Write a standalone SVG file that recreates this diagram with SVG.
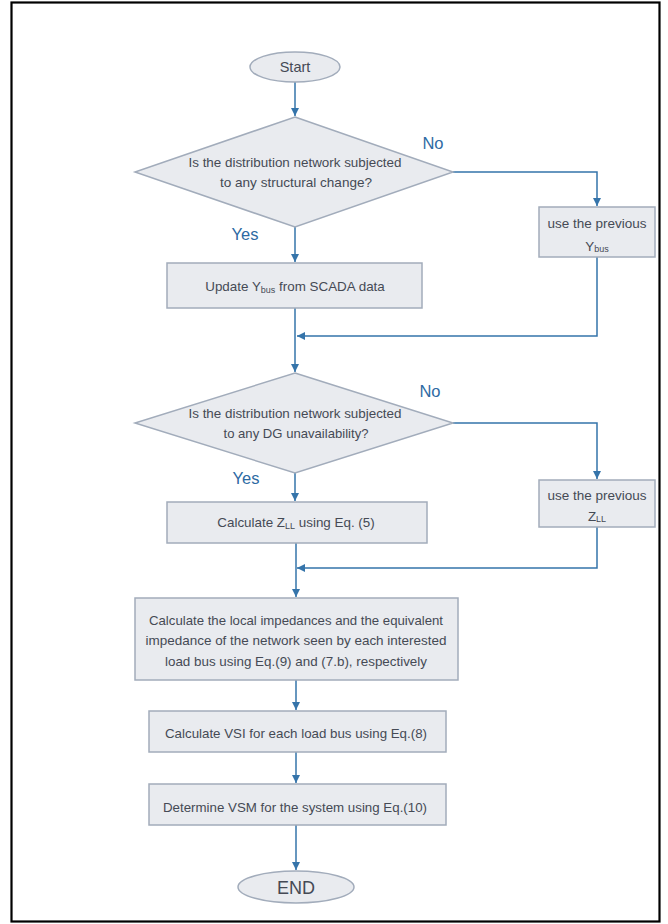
<svg xmlns="http://www.w3.org/2000/svg" width="668" height="924" viewBox="0 0 668 924">
<style>
.bg{fill:#ffffff}
.frame{fill:none;stroke:#000;stroke-width:2.2}
.shape{fill:#e9ebef;stroke:#a2acbb;stroke-width:1.5}
.t{font-family:"Liberation Sans",Arial,sans-serif;font-size:13.4px;fill:#454a55;text-anchor:middle}
.sub{font-size:9px}
.lbl{font-family:"Liberation Sans",Arial,sans-serif;font-size:16.5px;fill:#2d6aa3;text-anchor:middle}
.conn{fill:none;stroke:#3574aa;stroke-width:1.5}
</style>
<defs>
<marker id="arr" markerUnits="userSpaceOnUse" markerWidth="9" markerHeight="9" refX="8" refY="4" orient="auto">
<path d="M0,0 L8,4 L0,8 z" fill="#3574aa"/>
</marker>
</defs>
<rect class="bg" x="0" y="0" width="668" height="924"/>
<rect class="frame" x="11.5" y="2.5" width="648" height="919"/>

<g id="connectors">
<path class="conn" d="M295,82 V116" marker-end="url(#arr)"/>
<path class="conn" d="M295,227 V262" marker-end="url(#arr)"/>
<path class="conn" d="M453,172 H597 V206" marker-end="url(#arr)"/>
<path class="conn" d="M295,308 V372" marker-end="url(#arr)"/>
<path class="conn" d="M597,257 V336 H297" marker-end="url(#arr)"/>
<path class="conn" d="M295,473 V501" marker-end="url(#arr)"/>
<path class="conn" d="M453,423 H597 V479" marker-end="url(#arr)"/>
<path class="conn" d="M296,543 V597" marker-end="url(#arr)"/>
<path class="conn" d="M597,527 V568 H297" marker-end="url(#arr)"/>
<path class="conn" d="M296,680 V710" marker-end="url(#arr)"/>
<path class="conn" d="M296,752 V783" marker-end="url(#arr)"/>
<path class="conn" d="M296,825 V870" marker-end="url(#arr)"/>
</g>

<g id="start">
<ellipse class="shape" cx="295" cy="67" rx="45" ry="15"/>
<text class="t" x="295" y="72" style="font-size:14.5px">Start</text>
</g>

<g id="decision1">
<polygon class="shape" points="295,117 453,172 295,227 135,172"/>
<text class="t" x="295" y="167" textLength="213" lengthAdjust="spacingAndGlyphs">Is the distribution network subjected</text>
<text class="t" x="296" y="187" textLength="152" lengthAdjust="spacingAndGlyphs">to any structural change?</text>
</g>
<text class="lbl" x="433" y="149">No</text>
<text class="lbl" x="245" y="240">Yes</text>

<g id="prevYbus">
<rect class="shape" x="539" y="207" width="116" height="50"/>
<text class="t" x="597" y="228" textLength="99" lengthAdjust="spacingAndGlyphs">use the previous</text>
<text class="t" x="597" y="251">Y<tspan class="sub" dy="1">bus</tspan></text>
</g>

<g id="updateYbus">
<rect class="shape" x="167" y="263" width="255" height="45"/>
<text class="t" x="295" y="291">Update Y<tspan class="sub" dy="1.5">bus</tspan><tspan dy="-1.5"> from SCADA data</tspan></text>
</g>

<g id="decision2">
<polygon class="shape" points="295,373 453,423 295,473 135,423"/>
<text class="t" x="295" y="418" textLength="213" lengthAdjust="spacingAndGlyphs">Is the distribution network subjected</text>
<text class="t" x="296" y="438" textLength="145" lengthAdjust="spacingAndGlyphs">to any DG unavailability?</text>
</g>
<text class="lbl" x="430" y="397">No</text>
<text class="lbl" x="246" y="484">Yes</text>

<g id="prevZLL">
<rect class="shape" x="539" y="480" width="116" height="47"/>
<text class="t" x="597" y="500" textLength="99" lengthAdjust="spacingAndGlyphs">use the previous</text>
<text class="t" x="597" y="521">Z<tspan class="sub" dy="1">LL</tspan></text>
</g>

<g id="calcZLL">
<rect class="shape" x="167" y="502" width="260" height="41"/>
<text class="t" x="296" y="527">Calculate Z<tspan class="sub" dy="1.5">LL</tspan><tspan dy="-1.5"> using Eq. (5)</tspan></text>
</g>

<g id="calcImpedances">
<rect class="shape" x="135" y="598" width="323" height="82"/>
<text class="t" x="296" y="625" textLength="294" lengthAdjust="spacingAndGlyphs">Calculate the local impedances and the equivalent</text>
<text class="t" x="296" y="645" textLength="301" lengthAdjust="spacingAndGlyphs">impedance of the network seen by each interested</text>
<text class="t" x="296" y="666" textLength="262" lengthAdjust="spacingAndGlyphs">load bus using Eq.(9) and (7.b), respectively</text>
</g>

<g id="calcVSI">
<rect class="shape" x="149" y="711" width="297" height="41"/>
<text class="t" x="296" y="738" textLength="262" lengthAdjust="spacingAndGlyphs">Calculate VSI for each load bus using Eq.(8)</text>
</g>

<g id="determineVSM">
<rect class="shape" x="149" y="784" width="297" height="41"/>
<text class="t" x="295" y="812" textLength="264" lengthAdjust="spacingAndGlyphs">Determine VSM for the system using Eq.(10)</text>
</g>

<g id="end">
<ellipse class="shape" cx="296" cy="887" rx="58" ry="16"/>
<text class="t" x="296" y="894" style="font-size:18px">END</text>
</g>
</svg>
